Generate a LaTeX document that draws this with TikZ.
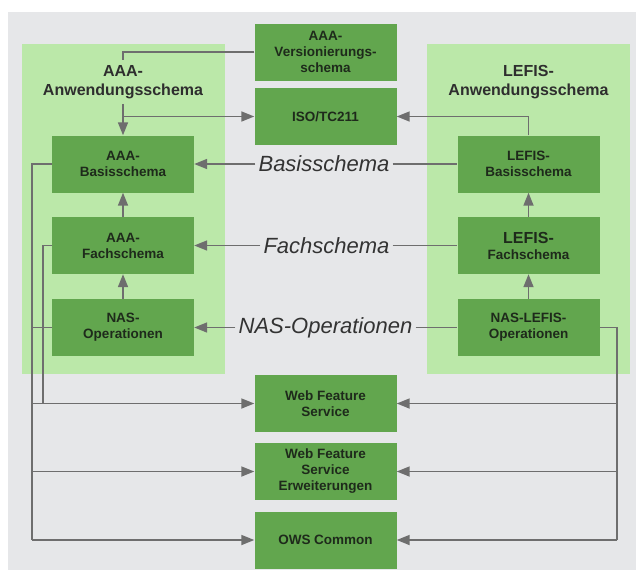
\documentclass[tikz,border=0pt]{standalone}
\usepackage{fontspec}
\setmainfont{Liberation Sans}
\usetikzlibrary{arrows.meta}
\definecolor{bggray}{HTML}{E6E7E9}
\definecolor{panelgreen}{HTML}{BBE8A9}
\definecolor{boxgreen}{HTML}{62A64E}
\definecolor{boxtext}{HTML}{1E2A1B}
\definecolor{titletext}{HTML}{2E2E2E}
\definecolor{lbltext}{HTML}{333333}
\definecolor{linegray}{HTML}{6E6E6E}
\begin{document}
\begin{tikzpicture}[x=1pt,y=-1pt,
  box/.style={fill=boxgreen,text=boxtext,minimum width=142pt,minimum height=57pt,
    align=center,inner sep=2pt,font=\fontsize{13.5}{16}\selectfont\bfseries},
  ttl/.style={align=center,text=titletext,inner sep=5pt,font=\fontsize{16}{19}\selectfont\bfseries},
  lbl/.style={text=lbltext,inner sep=3pt,font=\fontsize{22}{26}\selectfont\itshape},
  conn/.style={draw=linegray,line width=1.7pt},
  arr/.style={conn,-{Triangle[length=13pt,width=10pt]}}]
\useasboundingbox (0,0) rectangle (636,570);
\fill[bggray] (8,12) rectangle (636,570);

% Anwendungsschemata
\fill[panelgreen] (22,44) rectangle (225,374);
\fill[panelgreen] (427,44) rectangle (630,374);
\node[ttl] (aaattl) at (123,82) {AAA-\\Anwendungsschema};
\node[ttl] (lefttl) at (528.5,82) {LEFIS-\\Anwendungsschema};

% mitte oben
\node[box] (ver) at (325.5,52) {AAA-\\Versionierungs-\\schema};
\node[box] (iso) at (325.5,116.5) {ISO/TC211};

% AAA
\node[box] (aaab) at (123,164) {AAA-\\Basisschema};
\node[box] (aaaf) at (123,245.5) {AAA-\\Fachschema};
\node[box] (aaan) at (123,327.5) {NAS-\\Operationen};

% LEFIS
\node[box] (lefb) at (528.5,164) {LEFIS-\\Basisschema};
\node[box] (leff) at (528.5,245.5) {{\fontsize{16}{18}\selectfont LEFIS-}\\Fachschema};
\node[box] (lefn) at (528.5,327.5) {NAS-LEFIS-\\Operationen};

% mitte unten
\node[box] (wfs) at (325.5,403.5) {Web Feature\\Service};
\node[box] (wfse) at (325.5,471.5) {Web Feature\\Service\\Erweiterungen};
\node[box] (ows) at (325.5,540) {OWS Common};

\node[lbl] (bas) at (324,164) {Basisschema};
\node[lbl] (fach) at (326.5,245.5) {Fachschema};
\node[lbl] (nas) at (325.5,327.5) {NAS-Operationen};

\coordinate (lbus) at (32,540);
\coordinate (lbus2) at (43,403.5);
\coordinate (rbus) at (617,540);

\draw[conn] (ver.west) -| (aaattl.north);
\draw[arr] (aaattl.south) -- (aaab.north);
\draw[arr] (aaattl.south |- iso.west) -- (iso.west);
\draw[arr] (lefb.north) |- (iso.east);

\draw[arr] (bas) -- (aaab);
\draw[arr] (fach) -- (aaaf);
\draw[arr] (nas) -- (aaan);
\draw[conn] (bas) -- (lefb);
\draw[conn] (fach) -- (leff);
\draw[conn] (nas) -- (lefn);

\draw[arr] (aaaf) -- (aaab);
\draw[arr] (aaan) -- (aaaf);
\draw[arr] (leff) -- (lefb);
\draw[arr] (lefn) -- (leff);

% links
\draw[conn] (aaab.west) -| (lbus);
\draw[conn] (aaaf.west) -| (lbus2);
\draw[conn] (aaan.west) -- (aaan.west -| lbus);
\draw[arr] (lbus |- wfs.west) -- (wfs.west);
\draw[arr] (lbus |- wfse.west) -- (wfse.west);
\draw[arr] (lbus) -- (ows.west);

% rechts
\draw[conn] (lefn.east) -| (rbus);
\draw[arr] (rbus |- wfs.east) -- (wfs.east);
\draw[arr] (rbus |- wfse.east) -- (wfse.east);
\draw[arr] (rbus) -- (ows.east);
\end{tikzpicture}
\end{document}
